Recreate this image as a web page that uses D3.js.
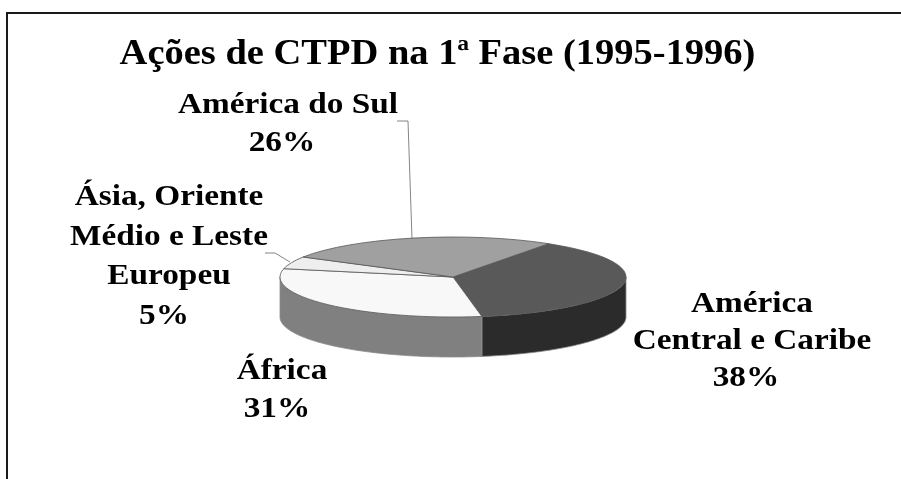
<!DOCTYPE html>
<html><head><meta charset="utf-8">
<script src="https://cdn.jsdelivr.net/npm/d3@7"></script>
<style>html,body{margin:0;padding:0;background:#fff}svg{display:block;filter:blur(.4px)}text{font-family:"Liberation Serif",serif;font-weight:bold;fill:#000}</style>
</head><body><svg id="c" width="901" height="479"></svg>
<script>
const categories = ["América Central e Caribe","África","Ásia, Oriente Médio e Leste Europeu","América do Sul"];
const values = [38,31,5,26];
const percentLabels = ["38%","31%","5%","26%"];
const nameLines = [["América","Central e Caribe"],["África"],["Ásia, Oriente","Médio e Leste","Europeu"],["América do Sul"]];
const topColors = ["#595959","#f8f8f8","#eeeeee","#a0a0a0"];
const sideColors = ["#2b2b2b","#808080","#a8a8a8","#707070"];
const titleText = "Ações de CTPD na 1ª Fase (1995-1996)";
const labelX = [752,282,169,288];
const labelY = [312,379,205,113];
const labelLh = [37,38,39.6,38];
const pctOffset = [-6,-5,-5,-6];
const svg = d3.select("#c");
const cx=453, cy=277, rx=173, ry=40, depth=40;
const start=33.6*Math.PI/180;
const arcs=d3.pie().sort(null).value(d=>d).startAngle(start).endAngle(start+2*Math.PI)(values);
const X=a=>cx+rx*Math.sin(a), Y=a=>cy-ry*Math.cos(a);

// frame
svg.append("path").attr("d","M7,479V13H901").attr("fill","none").attr("stroke","#1a1a1a").attr("stroke-width",2);

// side walls: front half only (pie angles 90°..270°)
const ell=(p,a0,a1,dy,move)=>{
  const n=Math.max(2,Math.ceil(Math.abs(a1-a0)/0.02));
  d3.range(n+1).forEach(i=>{const a=a0+(a1-a0)*i/n;
    if(i===0&&move)p.moveTo(X(a),Y(a)+dy); else p.lineTo(X(a),Y(a)+dy);});
};
const lo=Math.PI/2, hi=3*Math.PI/2;
arcs.forEach((d,i)=>{
  const a0=Math.max(d.startAngle,lo), a1=Math.min(d.endAngle,hi);
  if(a1<=a0) return;
  const p=d3.path();
  ell(p,a0,a1,0,true); ell(p,a1,a0,depth,false); p.closePath();
  svg.append("path").attr("d",p.toString()).attr("fill",sideColors[i]).attr("stroke","#8a8a8a").attr("stroke-width",.8);
});
// top faces
const arc=d3.arc().innerRadius(0).outerRadius(rx);
const g=svg.append("g").attr("transform",`translate(${cx},${cy}) scale(1,${ry/rx})`);
g.selectAll("path").data(arcs).join("path").attr("d",arc)
 .attr("fill",(d,i)=>topColors[i]).attr("stroke","#555").attr("stroke-width",.8)
 .attr("vector-effect","non-scaling-stroke");

// leaders
const leader=d3.line();
[[[397,121],[408,121],[412,239]],[[265,253],[275,253],[290,262]]].forEach(l=>
 svg.append("path").attr("d",leader(l)).attr("fill","none").attr("stroke","#666").attr("stroke-width",.8));

// text (the reference lettering is stretched horizontally)
const stretch=1.11;
svg.append("text").attr("transform",`translate(437.5,64) scale(1.1,1)`).attr("text-anchor","middle").attr("font-size",35).text(titleText);
const put=(t,x,y)=>svg.append("text").attr("transform",`translate(${x},${y}) scale(${stretch},1)`).attr("text-anchor","middle").attr("font-size",30).text(t);
categories.forEach((c,i)=>{
  nameLines[i].forEach((t,j)=>put(t,labelX[i],labelY[i]+j*labelLh[i]));
  put(percentLabels[i],labelX[i]+pctOffset[i],labelY[i]+nameLines[i].length*labelLh[i]);
});
</script></body></html>
